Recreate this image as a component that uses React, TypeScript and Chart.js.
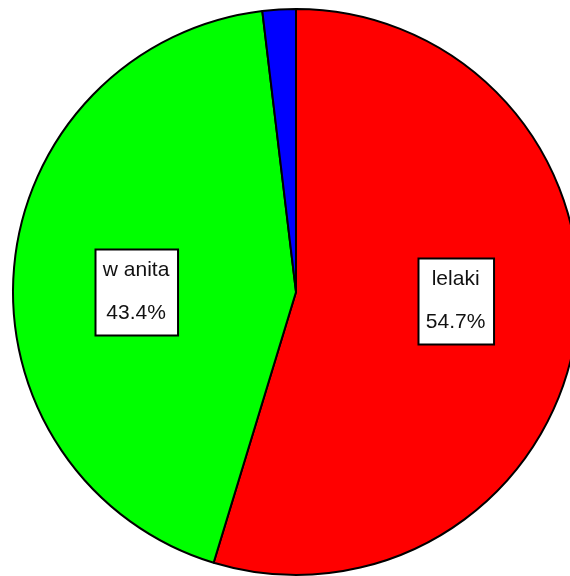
import React, { useEffect, useRef } from "react";
import { Chart, registerables } from "chart.js";

Chart.register(...registerables);

const categories: string[] = ["lelaki", "w anita", ""];
const values: number[] = [54.7, 43.4, 1.9];
const colors: string[] = ["#ff0000", "#00ff00", "#0000ff"];

const labelPlugin = {
  id: "boxLabels",
  afterDatasetsDraw(chart: any) {
    const ctx = chart.ctx;
    const meta = chart.getDatasetMeta(0);
    const data = chart.data.datasets[0].data as number[];
    const total = data.reduce((a, b) => a + b, 0);
    ctx.save();
    ctx.font = '21px "Liberation Sans", Arial, sans-serif';
    ctx.textAlign = "center";
    ctx.textBaseline = "middle";
    meta.data.forEach((arc: any, i: number) => {
      const name = chart.data.labels[i] as string;
      if (!name) return;
      const pct = ((data[i] / total) * 100).toFixed(1) + "%";
      const mid = (arc.startAngle + arc.endAngle) / 2 - (5.2 * Math.PI) / 180;
      const r = arc.outerRadius * 0.565;
      const cx = arc.x + Math.cos(mid) * r;
      const cy = arc.y + Math.sin(mid) * r;
      const w = Math.max(ctx.measureText(name).width, ctx.measureText(pct).width) + 16;
      const h = 86;
      const left = Math.round(cx - w / 2) + 0.5;
      const top = Math.round(cy - h / 2) + 0.5;
      ctx.fillStyle = "#ffffff";
      ctx.fillRect(left, top, w, h);
      ctx.strokeStyle = "#000000";
      ctx.lineWidth = 2;
      ctx.strokeRect(left, top, w, h);
      ctx.fillStyle = "#111111";
      ctx.fillText(name, cx, top + 21);
      ctx.fillText(pct, cx, top + 64);
    });
    ctx.restore();
  },
};

export default function App() {
  const ref = useRef<HTMLCanvasElement | null>(null);
  useEffect(() => {
    if (!ref.current) return;
    const chart = new Chart(ref.current, {
      type: "pie",
      data: {
        labels: categories,
        datasets: [
          {
            data: values,
            backgroundColor: colors,
            borderColor: "#000000",
            borderWidth: 2,
          },
        ],
      },
      options: {
        responsive: false,
        animation: false,
        devicePixelRatio: 1,
        layout: { padding: { left: 12, right: 12, top: 8, bottom: 8 } },
        plugins: {
          legend: { display: false },
          tooltip: { enabled: false },
        },
      },
      plugins: [labelPlugin],
    });
    return () => chart.destroy();
  }, []);
  return (
    <div
      style={{
        position: "fixed",
        left: 0,
        top: 0,
        width: 570,
        height: 576,
        overflow: "hidden",
        background: "#ffffff",
      }}
    >
      <canvas ref={ref} width={592} height={584} style={{ display: "block", width: 592, height: 584 }} />
    </div>
  );
}
